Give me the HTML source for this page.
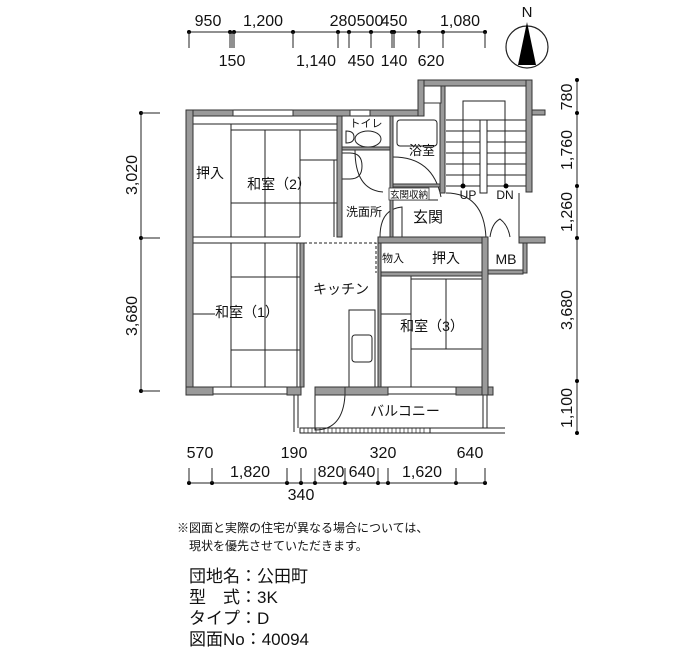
<!DOCTYPE html>
<html><head><meta charset="utf-8"><style>
body{margin:0;background:#fff;}
svg{display:block;font-family:"Liberation Sans","Noto Sans CJK JP",sans-serif;}
.w{fill:#9a9a9a;stroke:#333;stroke-width:1}
.t{fill:#111}
.l{stroke:#222;stroke-width:1;fill:none}
</style></head><body>
<svg width="700" height="650" viewBox="0 0 700 650">
<!-- top dimensions -->
<line x1="189" y1="32" x2="485" y2="32" class="l"/>
<g fill="#000">
<circle cx="189" cy="32" r="2"/><circle cx="230" cy="32" r="2"/><circle cx="234" cy="32" r="2"/><circle cx="293" cy="32" r="2"/><circle cx="338" cy="32" r="2"/><circle cx="349" cy="32" r="2"/><circle cx="371" cy="32" r="2"/><circle cx="392" cy="32" r="2"/><circle cx="394" cy="32" r="2"/><circle cx="419" cy="32" r="2"/><circle cx="443" cy="32" r="2"/><circle cx="485" cy="32" r="2"/>
</g>
<g class="l"><line x1="189" y1="32" x2="189" y2="48"/><line x1="230" y1="32" x2="230" y2="48"/><line x1="232" y1="32" x2="232" y2="48"/><line x1="234" y1="32" x2="234" y2="48"/><line x1="293" y1="32" x2="293" y2="48"/><line x1="338" y1="32" x2="338" y2="48"/><line x1="349" y1="32" x2="349" y2="48"/><line x1="371" y1="32" x2="371" y2="48"/><line x1="392" y1="32" x2="392" y2="48"/><line x1="394" y1="32" x2="394" y2="48"/><line x1="419" y1="32" x2="419" y2="48"/><line x1="443" y1="32" x2="443" y2="48"/><line x1="485" y1="32" x2="485" y2="48"/></g>
<g font-size="16" class="t" text-anchor="middle">
<text x="208" y="26">950</text><text x="263" y="26">1,200</text><text x="343" y="26">280</text><text x="370" y="26">500</text><text x="394" y="26">450</text><text x="460" y="26">1,080</text>
<text x="232" y="66">150</text><text x="316" y="66">1,140</text><text x="361" y="66">450</text><text x="394" y="66">140</text><text x="431" y="66">620</text>
</g>
<!-- north -->
<circle cx="527" cy="47" r="21" fill="#fff" stroke="#222" stroke-width="1.2"/>
<polygon points="527,22 518,65 536,65" fill="#000"/>
<text x="527" y="17" font-size="15" text-anchor="middle" class="t">N</text>

<!-- left dimensions -->
<line x1="141" y1="113" x2="141" y2="391" class="l"/>
<g fill="#000"><circle cx="141" cy="113" r="2"/><circle cx="141" cy="238" r="2"/><circle cx="141" cy="391" r="2"/></g>
<g class="l"><line x1="141" y1="113" x2="160" y2="113"/><line x1="141" y1="238" x2="160" y2="238"/><line x1="141" y1="391" x2="160" y2="391"/></g>
<g font-size="16" class="t" text-anchor="middle">
<text transform="translate(137,175) rotate(-90)">3,020</text>
<text transform="translate(137,316) rotate(-90)">3,680</text>
</g>
<!-- right dimensions -->
<line x1="577" y1="80" x2="577" y2="433" class="l"/>
<g fill="#000"><circle cx="577" cy="80" r="2"/><circle cx="577" cy="113" r="2"/><circle cx="577" cy="186" r="2"/><circle cx="577" cy="238" r="2"/><circle cx="577" cy="381" r="2"/><circle cx="577" cy="433" r="2"/></g>
<g font-size="16" class="t" text-anchor="middle">
<text transform="translate(572,97) rotate(-90)">780</text>
<text transform="translate(572,150) rotate(-90)">1,760</text>
<text transform="translate(572,212) rotate(-90)">1,260</text>
<text transform="translate(572,310) rotate(-90)">3,680</text>
<text transform="translate(572,408) rotate(-90)">1,100</text>
</g>
<!-- bottom dimensions -->
<line x1="189" y1="483" x2="485" y2="483" class="l"/>
<g fill="#000"><circle cx="189" cy="483" r="2"/><circle cx="212" cy="483" r="2"/><circle cx="287" cy="483" r="2"/><circle cx="301" cy="483" r="2"/><circle cx="315" cy="483" r="2"/><circle cx="345" cy="483" r="2"/><circle cx="378" cy="483" r="2"/><circle cx="388" cy="483" r="2"/><circle cx="456" cy="483" r="2"/><circle cx="485" cy="483" r="2"/></g>
<g class="l"><line x1="189" y1="468" x2="189" y2="483"/><line x1="212" y1="468" x2="212" y2="483"/><line x1="287" y1="468" x2="287" y2="483"/><line x1="301" y1="468" x2="301" y2="483"/><line x1="315" y1="468" x2="315" y2="483"/><line x1="345" y1="468" x2="345" y2="483"/><line x1="378" y1="468" x2="378" y2="483"/><line x1="388" y1="468" x2="388" y2="483"/><line x1="456" y1="468" x2="456" y2="483"/><line x1="485" y1="468" x2="485" y2="483"/></g>
<g font-size="16" class="t" text-anchor="middle">
<text x="200" y="458">570</text><text x="294" y="458">190</text><text x="383" y="458">320</text><text x="470" y="458">640</text>
<text x="250" y="477">1,820</text><text x="331" y="477">820</text><text x="362" y="477">640</text><text x="422" y="477">1,620</text>
<text x="301" y="500">340</text>
</g>

<!-- floors / interior lines -->
<g class="l" stroke="#333">
<line x1="231" y1="124" x2="231" y2="237"/><line x1="193" y1="124" x2="337" y2="124"/>
<line x1="265" y1="130" x2="265" y2="237"/><line x1="300" y1="130" x2="300" y2="237"/>
<line x1="231" y1="130" x2="337" y2="130"/><line x1="300" y1="160" x2="337" y2="160"/>
<line x1="231" y1="203" x2="337" y2="203"/><line x1="334" y1="160" x2="334" y2="237"/>
<line x1="231" y1="243" x2="231" y2="387"/><line x1="265" y1="243" x2="265" y2="387"/>
<line x1="231" y1="277" x2="300" y2="277"/><line x1="193" y1="314" x2="215" y2="314"/>
<line x1="231" y1="350" x2="300" y2="350"/><line x1="265" y1="277" x2="265" y2="350"/>
<line x1="297" y1="243" x2="297" y2="387"/>
<path d="M304,243 H376 V273" stroke-dasharray="3,2"/>
<rect x="349" y="310" width="26" height="77"/>
<rect x="352" y="335" width="20" height="27" rx="3"/>
<line x1="411" y1="276" x2="411" y2="387"/><line x1="381" y1="314" x2="411" y2="314"/>
<line x1="411" y1="279" x2="482" y2="279"/><line x1="411" y1="349" x2="482" y2="349"/><line x1="446" y1="279" x2="446" y2="349"/>
<path d="M346,143 q8,0 8,-6 q0,-6 -8,-6 z"/>
<ellipse cx="368" cy="139" rx="13" ry="8"/>
<rect x="397" y="120" width="40" height="26" rx="3"/>
<path d="M393,200 H438"/>
<path d="M342,153 h8 q12,0 12,13 q0,13 -12,13 h-8 z"/>
<path d="M355,150 q0,40 28,42"/><line x1="355" y1="150" x2="390" y2="150"/>
<path d="M393,157 q40,0 48,40"/>
<path d="M446,193 q38,0 40,45"/>
<path d="M380,237 q0,-28 22,-30 v32"/>
<path d="M490,237 q2,-14 10,-18 q8,6 10,18"/>
<line x1="294" y1="395" x2="294" y2="432"/><line x1="298" y1="395" x2="298" y2="428"/>
<line x1="483" y1="395" x2="483" y2="428"/><line x1="487" y1="395" x2="487" y2="428"/>
<path d="M315,395 v35 q28,0 30,-35"/>
<rect x="300" y="428" width="130" height="5"/>
<path d="M304,428v5M308,428v5M312,428v5M316,428v5M320,428v5M324,428v5M328,428v5M332,428v5M336,428v5M340,428v5M344,428v5M348,428v5M352,428v5M356,428v5M360,428v5M364,428v5M368,428v5M372,428v5M376,428v5M380,428v5M384,428v5M388,428v5M392,428v5M396,428v5M400,428v5M404,428v5M408,428v5M412,428v5M416,428v5M420,428v5M424,428v5" stroke-width="0.7"/>
<line x1="430" y1="428" x2="505" y2="428"/><line x1="430" y1="433" x2="505" y2="433"/>
<line x1="233" y1="110" x2="293" y2="110"/><line x1="233" y1="116" x2="293" y2="116"/>
<line x1="350" y1="110" x2="370" y2="110"/><line x1="350" y1="116" x2="370" y2="116"/>
<line x1="213" y1="387" x2="287" y2="387"/><line x1="213" y1="394" x2="287" y2="394"/>
<line x1="388" y1="387" x2="456" y2="387"/><line x1="388" y1="394" x2="456" y2="394"/>
<line x1="193" y1="237" x2="300" y2="237"/><line x1="193" y1="243" x2="300" y2="243"/>
<rect x="463" y="101" width="42" height="85"/>
<line x1="446" y1="186" x2="526" y2="186"/>
<line x1="446" y1="120" x2="526" y2="120"/><line x1="446" y1="131" x2="526" y2="131"/><line x1="446" y1="142" x2="526" y2="142"/><line x1="446" y1="153" x2="526" y2="153"/><line x1="446" y1="164" x2="526" y2="164"/><line x1="446" y1="175" x2="526" y2="175"/>
<rect x="480" y="120" width="7" height="73" fill="#fff"/>
<line x1="519" y1="193" x2="519" y2="237"/>
</g>
<g fill="#000"><circle cx="463" cy="186" r="2.5"/><circle cx="506" cy="186" r="2.5"/></g>

<!-- walls -->
<g class="w">
<rect x="186" y="110" width="47" height="6"/><rect x="293" y="110" width="57" height="6"/><rect x="370" y="110" width="48" height="6"/>
<rect x="186" y="110" width="7" height="285"/>
<rect x="186" y="387" width="27" height="8"/><rect x="287" y="387" width="14" height="8"/><rect x="315" y="387" width="30" height="8"/><rect x="345" y="387" width="43" height="8"/><rect x="456" y="387" width="37" height="8"/>
<rect x="300" y="243" width="4" height="144"/>
<rect x="378" y="243" width="3" height="144"/>
<rect x="381" y="272" width="101" height="4"/>
<rect x="378" y="237" width="110" height="6"/>
<rect x="482" y="237" width="6" height="158"/>
<rect x="488" y="270" width="35" height="4"/><rect x="519" y="237" width="26" height="6"/><rect x="523" y="243" width="4" height="30"/>
<rect x="337" y="116" width="5" height="121"/>
<rect x="390" y="116" width="3" height="121"/>
<rect x="342" y="147" width="48" height="3"/>
<rect x="393" y="184" width="50" height="3"/>
<rect x="418" y="80" width="114" height="6"/>
<rect x="418" y="80" width="6" height="36"/>
<rect x="526" y="80" width="6" height="112"/><rect x="532" y="110" width="13" height="5"/>
<rect x="440" y="86" width="5" height="107"/>
<rect x="424" y="86" width="17" height="17" fill="#fff"/>
</g>

<!-- labels -->
<g font-size="14" class="t" text-anchor="middle">
<text x="210" y="178">押入</text>
<text x="279" y="189">和室（2）</text>
<text x="366" y="127" font-size="11">トイレ</text>
<text x="422" y="155" font-size="13">浴室</text>
<text x="364" y="216" font-size="12">洗面所</text>
<text x="428" y="222" font-size="15">玄関</text>
<text x="468" y="199" font-size="12">UP</text>
<text x="505" y="199" font-size="12">DN</text>
<text x="393" y="262" font-size="11">物入</text>
<text x="446" y="263">押入</text>
<text x="506" y="264" font-size="14">MB</text>
<text x="341" y="294">キッチン</text>
<text x="247" y="317">和室（1）</text>
<text x="432" y="331">和室（3）</text>
<text x="405" y="416">バルコニー</text>
</g>
<rect x="389" y="188" width="40" height="12" fill="#fff" stroke="#333" stroke-width="0.8"/>
<text x="409" y="198" font-size="9.5" text-anchor="middle" class="t">玄関収納</text>

<!-- notes -->
<g class="t" font-size="12">
<text x="177" y="532">※図面と実際の住宅が異なる場合については、</text>
<text x="189" y="550">現状を優先させていただきます。</text>
</g>
<g class="t" font-size="17">
<text x="189" y="582">団地名：公田町</text>
<text x="189" y="603">型　式：3K</text>
<text x="189" y="624">タイプ：D</text>
<text x="189" y="645">図面No：40094</text>
</g>
</svg>
</body></html>
